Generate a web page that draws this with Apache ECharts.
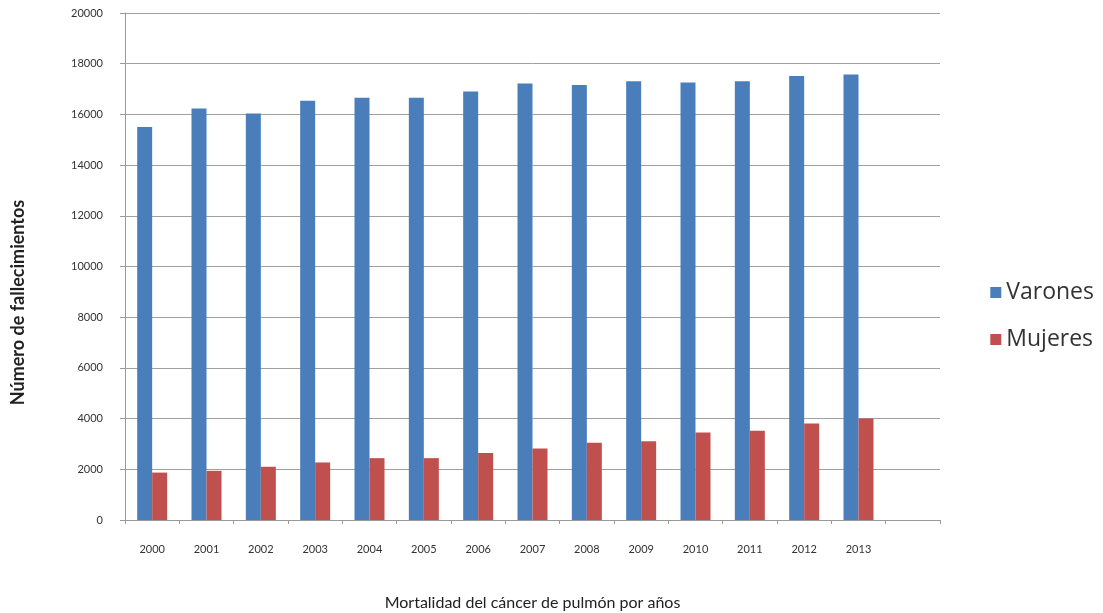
<!DOCTYPE html>
<html>
<head>
<meta charset="utf-8">
<script src="https://cdn.jsdelivr.net/npm/echarts@6/dist/echarts.min.js"></script>
<style>html,body{margin:0;padding:0;background:#fff}#c{width:1103px;height:613px}</style>
</head>
<body>
<div id="c"></div>
<script>
const categories = ['2000','2001','2002','2003','2004','2005','2006','2007','2008','2009','2010','2011','2012','2013',''];
const varones = [15500, 16230, 16040, 16540, 16660, 16660, 16900, 17220, 17160, 17310, 17260, 17310, 17510, 17570, null];
const mujeres = [1870, 1940, 2100, 2270, 2440, 2440, 2640, 2820, 3050, 3110, 3450, 3520, 3810, 4000, null];
const yTicks = { min: 0, max: 20000, interval: 2000 };

const chart = echarts.init(document.getElementById('c'));
const font = 'Lato, "Open Sans", sans-serif';
chart.setOption({
  animation: false,
  textStyle: { fontFamily: font },
  grid: { left: 125, right: 163, top: 13, bottom: 93, containLabel: false, outerBoundsMode: 'none' },
  legend: {
    orient: 'vertical', right: 4, top: 276, itemWidth: 11, itemHeight: 11, itemGap: 24,
    icon: 'rect',
    textStyle: { fontSize: 23, color: '#333', fontFamily: '"Open Sans", Lato, sans-serif' },
    data: ['Varones', 'Mujeres']
  },
  xAxis: {
    type: 'category', data: categories,
    name: 'Mortalidad del cáncer de pulmón por años', nameLocation: 'middle', nameGap: 75,
    nameTextStyle: { fontSize: 16, color: '#222', fontFamily: font },
    axisLine: { lineStyle: { color: '#9a9a9a' } },
    axisTick: { show: true, length: 4, lineStyle: { color: '#9a9a9a' } },
    axisLabel: { fontSize: 11, color: '#333', margin: 24, interval: 0 }
  },
  yAxis: {
    type: 'value', min: yTicks.min, max: yTicks.max, interval: yTicks.interval,
    name: 'Número de fallecimientos', nameLocation: 'middle', nameGap: 98, nameRotate: 90,
    nameTextStyle: { fontSize: 18, color: '#222', fontWeight: 'bold', fontFamily: font, padding: [0, 72, 0, 0] },
    axisLine: { show: true, lineStyle: { color: '#9a9a9a' } },
    axisTick: { show: true, length: 5, lineStyle: { color: '#9a9a9a' } },
    axisLabel: { fontSize: 11, color: '#333', margin: 22, formatter: v => String(v) },
    splitLine: { lineStyle: { color: '#a0a0a0', width: 1 } }
  },
  series: [
    { name: 'Varones', type: 'bar', data: varones, barWidth: 15, barGap: '0%', itemStyle: { color: '#4a7ebb' } },
    { name: 'Mujeres', type: 'bar', data: mujeres, barWidth: 15, itemStyle: { color: '#c0504d' } }
  ]
});
</script>
</body>
</html>
